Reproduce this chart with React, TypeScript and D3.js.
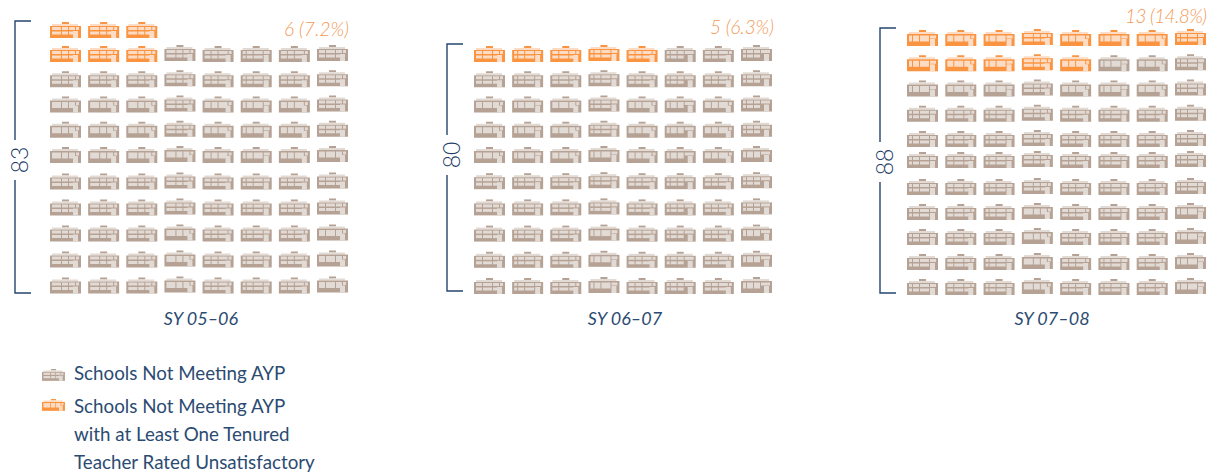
import React from "react";
import * as d3 from "d3";

const years = ["SY 05–06", "SY 06–07", "SY 07–08"];
const totals = [83, 80, 88];
const flagged = [6, 5, 13];
const flaggedLabels = ["6 (7.2%)", "5 (6.3%)", "13 (14.8%)"];
const legendLines = ["Schools Not Meeting AYP", "Schools Not Meeting AYP", "with at Least One Tenured", "Teacher Rated Unsatisfactory"];

const NAVY = "#2b4b72";
const FONT = "Lato, 'Open Sans', sans-serif";

// window divisions of the drawn icon (drawing style only)
const patterns: Record<string, number[][]> = {
  a: [[2, 5], [6, 12], [13, 22], [23, 29]],
  b: [[2, 8], [9, 18], [19, 25], [26, 29]],
  c: [[2, 11], [12, 18], [19, 25], [26, 29]],
  d: [[2, 8], [9, 15], [16, 25], [26, 29]],
  e: [[2, 5], [6, 12], [13, 19], [20, 29]],
};

const layouts = [
  {
    x0: 50, x1: 317, rowDomain: [0, 1, 5, 6, 10], rowRange: [38, 62, 163, 189.5, 293.5],
    bx: 15, bt: 21, bb: 293, labelY: 160, labelRight: 349, labelBase: 35.5, labelWidth: 65, titleX: 201,
    cols: "ccccdadb", tallRegular: [3, 4, 5], tallOdd: [5, 8, 9, 10],
  },
  {
    x0: 474, x1: 741, rowDomain: [0, 4, 9], rowRange: [62, 163, 294],
    bx: 447, bt: 44, bb: 291, labelY: 155, labelRight: 774, labelBase: 34, labelWidth: 64, titleX: 625,
    cols: "babadede", tallRegular: [2, 3, 4], tallOdd: [4, 7, 8, 9],
  },
  {
    x0: 907, x1: 1175, rowDomain: [0, 4, 5, 6, 10], rowRange: [46, 147, 168, 195, 295],
    bx: 880, bt: 28, bb: 293, labelY: 162, labelRight: 1207, labelBase: 23, labelWidth: 82, titleX: 1052,
    cols: "abacdaba", tallRegular: [0, 1, 2], tallOdd: [7, 8, 9, 10],
  },
];

function School({ x, y, hot, pattern, tall }: { x: number; y: number; hot: boolean; pattern: string; tall: boolean }) {
  const body = hot ? "#fb9441" : "#b6a294";
  const light = hot ? "#fcdcc4" : "#e2dad4";
  const p = patterns[pattern];
  return (
    <g transform={`translate(${x},${y})`}>
      <rect x={12} y={0} width={7} height={2} fill={body} />
      <rect x={2} y={2} width={26} height={2} fill={light} />
      <rect x={0} y={4} width={31} height={12} fill={body} />
      {p.map((w, i) =>
        tall ? (
          <rect key={i} x={w[0]} y={5.5} width={w[1] - w[0]} height={i === 3 ? 3 : 6} fill={light} />
        ) : (
          <g key={i}>
            <rect x={w[0]} y={5} width={w[1] - w[0]} height={3} fill={light} />
            {i < 3 && <rect x={w[0]} y={9.5} width={w[1] - w[0]} height={3} fill={light} />}
          </g>
        )
      )}
      <rect x={23} y={9} width={5} height={7} fill={light} />
    </g>
  );
}

export default function App() {
  return (
    <svg width={1209} height={474} style={{ position: "absolute", left: 0, top: 0 }} fontFamily={FONT}>
      {years.map((yr, p) => {
        const L = layouts[p];
        const n = totals[p];
        const rows = Math.ceil(n / 8);
        const firstRowCount = n - (rows - 1) * 8;
        const xs = d3.scaleLinear().domain([0, 7]).range([L.x0, L.x1]);
        const ys = d3.scaleLinear().domain(L.rowDomain).range(L.rowRange);
        const cells = d3.range(n).map((i) => {
          const row = i < firstRowCount ? 0 : 1 + Math.floor((i - firstRowCount) / 8);
          const col = i < firstRowCount ? i : (i - firstRowCount) % 8;
          return { i, row, col };
        });
        const mid = L.labelY;
        return (
          <g key={yr}>
            {cells.map((c) => {
              const odd = c.col === 3 || c.col === 7;
              const tall = (odd ? L.tallOdd : L.tallRegular).includes(c.row);
              return (
                <School
                  key={c.i}
                  x={xs(c.col)}
                  y={ys(c.row) - 16 - (odd ? 1 : 0)}
                  hot={c.i < flagged[p]}
                  pattern={L.cols[c.col]}
                  tall={tall}
                />
              );
            })}
            <path
              d={`M${L.bx + 16},${L.bt}H${L.bx}V${mid - 20}M${L.bx},${mid + 20}V${L.bb}H${L.bx + 16}`}
              fill="none"
              stroke="#24466f"
              strokeWidth={1.4}
            />
            <text
              transform={`translate(${L.bx + 13},${mid}) rotate(-90)`}
              textAnchor="middle"
              fontSize={23}
              fontWeight={300}
              fill="#1d3d66"
            >
              {totals[p]}
            </text>
            <text
              x={L.labelRight}
              y={L.labelBase}
              textAnchor="end"
              fontSize={19}
              fontStyle="italic"
              fontWeight={300}
              fill="#f49a58"
              textLength={L.labelWidth}
            >
              {flaggedLabels[p]}
            </text>
            <text x={L.titleX} y={325} textAnchor="middle" fontSize={18} fontStyle="italic" fill={NAVY}>
              {yr}
            </text>
          </g>
        );
      })}
      <g transform="translate(42,369) scale(0.74)">
        <School x={0} y={0} hot={false} pattern="c" tall={false} />
      </g>
      <g transform="translate(42,399) scale(0.74)">
        <School x={0} y={0} hot={true} pattern="c" tall={true} />
      </g>
      {legendLines.map((t, i) => (
        <text key={i} x={74} y={[379.5, 412.5, 440.5, 468.5][i]} fontSize={18.75} fill={NAVY}>
          {t}
        </text>
      ))}
    </svg>
  );
}
